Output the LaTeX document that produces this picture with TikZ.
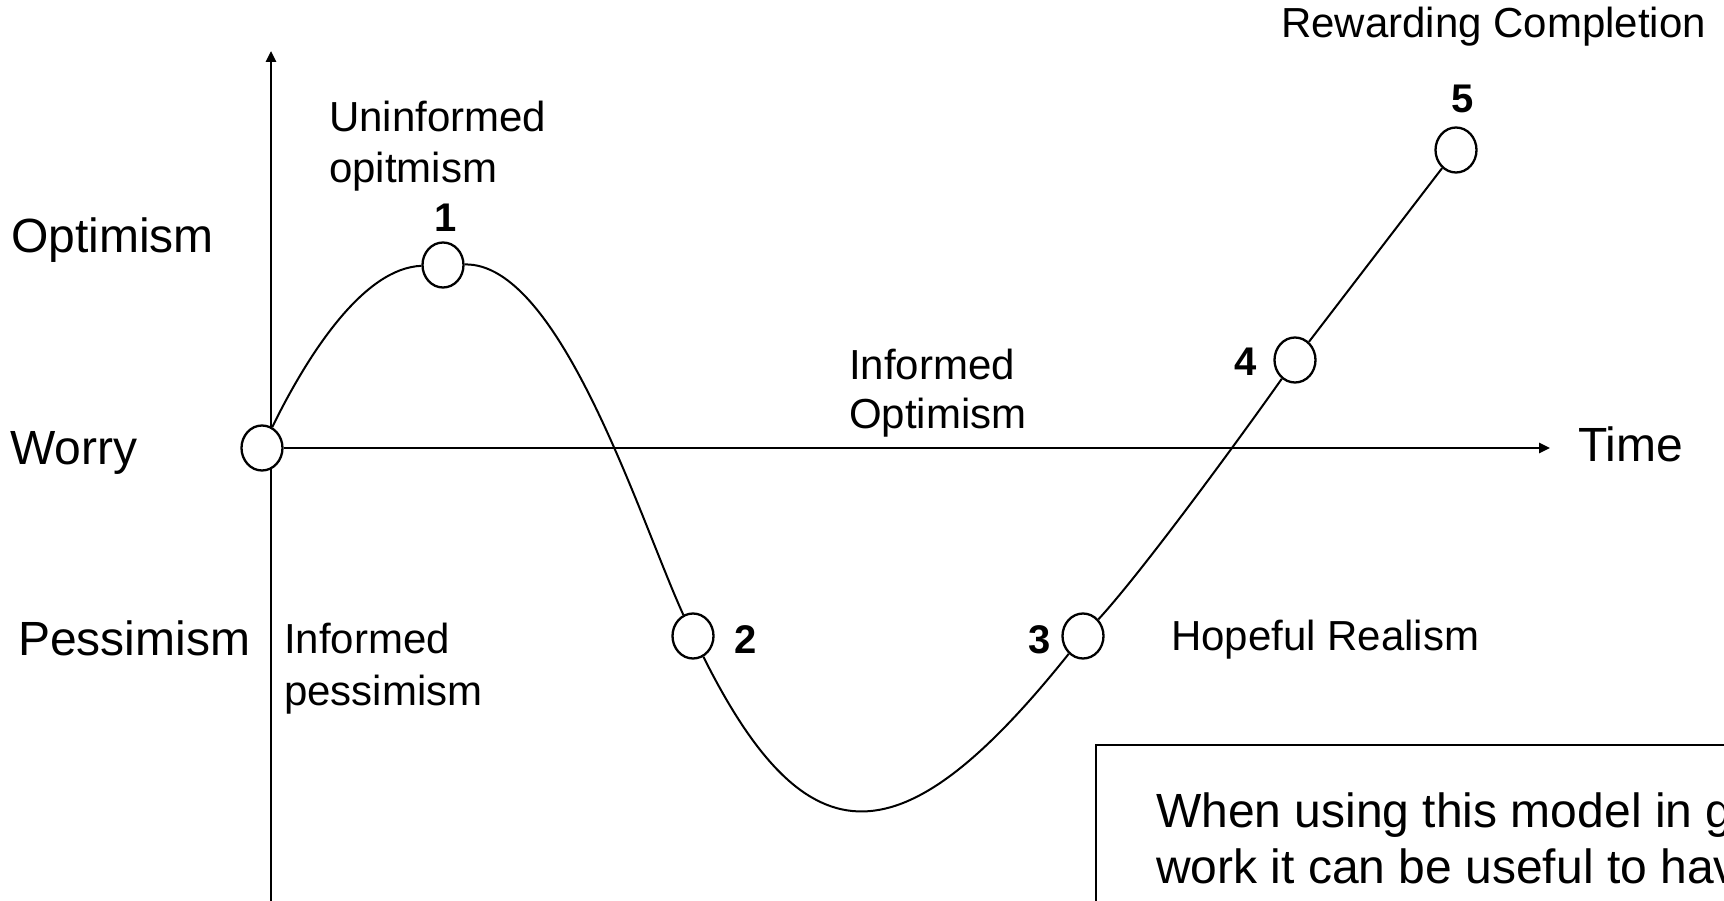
\documentclass[tikz,border=0pt]{standalone}
\usepackage{fontspec}
\setmainfont{Liberation Sans}
\usetikzlibrary{shapes.geometric,arrows.meta}
\begin{document}
\begin{tikzpicture}[x=1pt,y=-1pt,
  axis/.style={line width=2.6pt},
  curveline/.style={line width=2pt},
  pt/.style={ellipse,draw,fill=white,line width=2.3pt,minimum width=41pt,minimum height=45pt,inner sep=0pt},
  biglab/.style={font=\fontsize{48}{56}\selectfont,inner sep=0pt,anchor=base west},
  ann/.style={font=\fontsize{42}{50}\selectfont,inner sep=0pt,anchor=base west},
  num/.style={font=\fontsize{40}{48}\selectfont\bfseries,inner sep=0pt,anchor=base},
  tip/.style={-{Triangle[length=11pt,width=10pt]}}
]
\useasboundingbox (0,0) rectangle (1724,901);
\clip (0,0) rectangle (1724,901);
\fill[white] (0,0) rectangle (1724,901);
% vertical axis
\coordinate (ybot) at (271,910);
\coordinate (ytop) at (271,51);
\draw[axis,tip] (ybot) -- (ytop);
% points
\node[pt] (c0) at (262,448) {};
\node[pt] (c1) at (443,265) {};
\node[pt] (c2) at (693,636) {};
\node[pt] (c3) at (1083,636) {};
\node[pt] (c4) at (1295,360) {};
\node[pt] (c5) at (1456,150) {};
% horizontal axis
\coordinate (xend) at (1550,448);
\draw[axis,tip] (c0.east) -- (xend);
% curve
\draw[curveline] (c0) .. controls (310,350) and (365,268) .. (c1);
\draw[curveline] (c1) .. controls (560,262) and (640,520) .. (c2);
\draw[curveline] (c2) .. controls (808,866) and (903,861) .. (c3);
\draw[curveline] (c3) .. controls (1143,571) and (1245,431) .. (c4);
\draw[curveline] (c4) -- (c5);
% axis labels
\node[biglab] (lopt) at (11,253) {Optimism};
\node[biglab] (lwor) at (10,464) {Worry};
\node[biglab] (lpes) at (18,655) {Pessimism};
\node[biglab] (ltime) at (1578,461) {Time};
% annotations
\node[ann] (a1a) at (329,132) {Uninformed};
\node[ann] (a1b) at (329,183) {opitmism};
\node[num] (n1) at (446,232) {1};
\node[ann] (a2a) at (849,379) {Informed};
\node[ann] (a2b) at (849,428) {Optimism};
\node[num] (n4) at (1246,375) {4};
\node[num] (n5) at (1463,113) {5};
\node[ann] (a5) at (1281,38) {Rewarding Completion};
\node[ann] (a3a) at (284,653) {Informed};
\node[ann] (a3b) at (284,705) {pessimism};
\node[num] (n2) at (746,653) {2};
\node[num] (n3) at (1040,653) {3};
\node[ann] (a4) at (1171,650) {Hopeful Realism};
% note box
\draw[line width=2pt] (1096,745) rectangle (1760,960);
\node[biglab] (t1) at (1156,827) {When using this model in g};
\node[biglab] (t2) at (1156,883) {work it can be useful to hav};
\end{tikzpicture}
\end{document}
